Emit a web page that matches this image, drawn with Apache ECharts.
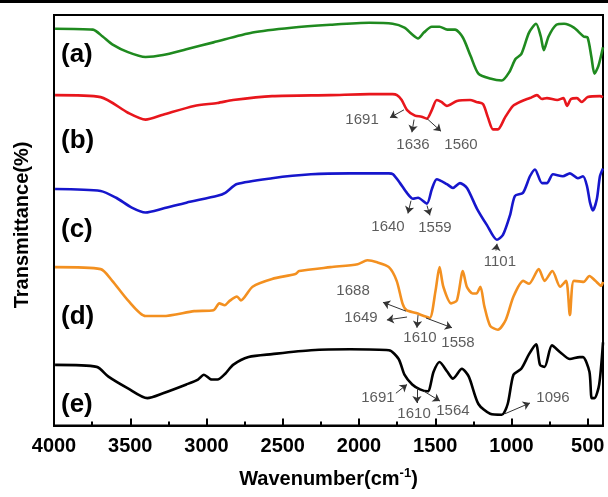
<!DOCTYPE html>
<html><head><meta charset="utf-8">
<script src="https://cdn.jsdelivr.net/npm/echarts@6/dist/echarts.min.js"></script>
<style>html,body{margin:0;padding:0;background:#fff}#c{width:608px;height:497px}</style>
</head><body><div id="c"></div>
<script>
// wavenumber (cm-1), relative transmittance (offset stacked)
const spectrumA = [[3993,406],[3745,405],[3681,398],[3618,390],[3515,382],[3400,377],[3285,379],[3132,385],[2954,392],[2698,402],[2443,407],[2187,410],[1932,412],[1779,411],[1702,407],[1651,400],[1613,396],[1575,402],[1523,408],[1472,408],[1421,405],[1370,405],[1319,397],[1268,378],[1217,360],[1140,355],[1064,353],[1013,362],[974,375],[936,380],[885,402],[839,411],[808,398],[788,384],[757,398],[706,410],[655,411],[591,407],[527,398],[501,397],[476,377],[456,360],[430,368],[400,387]];
const spectrumB = [[3993,338],[3694,336],[3515,320],[3400,313],[3285,318],[3081,327],[2928,330],[2826,333],[2570,337],[2187,338],[1932,339],[1780,339],[1751,338],[1720,333],[1686,323],[1633,317],[1590,316],[1555,314],[1522,323],[1490,333],[1460,331],[1424,327],[1358,332],[1272,333],[1230,331],[1187,329],[1154,315],[1121,303],[1089,303],[1043,315],[990,327],[931,332],[880,335],[833,338],[800,334],[768,335],[700,333],[660,335],[636,327],[610,334],[571,335],[540,331],[500,336],[420,337],[400,336]];
const spectrumC = [[3993,242],[3694,240],[3592,233],[3490,223],[3400,218],[3285,222],[3132,228],[2928,235],[2877,238],[2800,247],[2570,253],[2315,257],[2060,258],[1804,258],[1777,257],[1731,248],[1686,238],[1646,232],[1613,233],[1555,227],[1522,242],[1490,252],[1424,247],[1384,243],[1338,248],[1292,243],[1227,222],[1161,205],[1096,190],[1056,195],[1010,215],[977,235],[925,238],[879,255],[846,262],[800,248],[768,248],[728,257],[663,255],[617,258],[565,253],[531,255],[505,245],[485,228],[466,220],[440,232],[420,255],[400,263]];
const spectrumD = [[3993,162],[3694,160],[3618,148],[3515,128],[3400,112],[3285,112],[3081,117],[2954,118],[2916,125],[2880,123],[2852,127],[2800,132],[2775,128],[2698,142],[2570,150],[2417,155],[2392,158],[2187,162],[2009,165],[1945,169],[1881,167],[1804,162],[1753,148],[1715,125],[1689,118],[1625,115],[1575,112],[1536,110],[1498,138],[1472,162],[1447,142],[1396,125],[1358,128],[1319,158],[1293,142],[1255,135],[1230,135],[1204,142],[1178,122],[1140,102],[1089,98],[1038,108],[987,132],[923,148],[885,145],[821,160],[783,148],[732,158],[681,142],[642,148],[617,113],[591,148],[527,147],[489,153],[450,148],[412,143],[400,147]];
const spectrumE = [[3993,62],[3720,60],[3643,50],[3515,38],[3388,28],[3285,33],[3132,42],[3056,47],[3017,52],[2966,47],[2928,47],[2877,53],[2826,62],[2724,70],[2570,73],[2315,77],[2060,78],[1804,77],[1740,68],[1702,52],[1651,42],[1600,37],[1549,35],[1511,55],[1472,65],[1421,55],[1384,48],[1325,58],[1280,50],[1217,22],[1140,12],[1064,11],[1025,22],[987,52],[936,58],[885,73],[839,83],[813,62],[783,60],[735,82],[681,75],[617,68],[553,70],[531,70],[489,55],[474,28],[456,28],[425,42],[400,85]];

const panelNames = ['(a)','(b)','(c)','(d)','(e)'];
const xTickValues = [500,1000,1500,2000,2500,3000,3500,4000];
const xMinorTickValues = [750,1250,1750,2250,2750,3250,3750];

// peak annotations: text and anchor in data space
const peakTexts = ['1691','1636','1560','1640','1559','1101','1688','1649','1610','1558','1691','1610','1564','1096'];
const peakAnchors = [[1980,313],[1646,287],[1331,287],[1810,203],[1502,202],[1076,167],[2039,138],[1987,110],[1600,90],[1351,85],[1876,28],[1639,12],[1384,15],[728,28]];
// arrows: [fromWave, fromT, toWave, toT]
const peakArrows = [[1705,323,1797,315],[1639,313,1653,300],[1554,314,1462,301],[1659,230,1679,217],[1554,225,1535,215],[1102,179,1095,186],[1692,117,1843,126],[1685,111,1817,108],[1613,113,1620,100],[1561,110,1390,100],[1758,33,1685,42],[1620,38,1620,23],[1574,35,1469,25],[1043,12,879,23]];

const colors = ['#1f8a1f','#e8161c','#1616cc','#f39020','#000000'];
const FONT = '"Liberation Sans", Arial, sans-serif';

const chart = echarts.init(document.getElementById('c'), null, {renderer:'canvas'});
const spectra = [spectrumA, spectrumB, spectrumC, spectrumD, spectrumE];
const series = spectra.map((d,i)=>({
  type:'line', data:d, showSymbol:false, smooth:0.25, silent:true,
  lineStyle:{color:colors[i], width:2.6}, z:3
}));
series.push({
  type:'lines', coordinateSystem:'cartesian2d', silent:true, z:4,
  symbol:['none','arrow'], symbolSize:[0,7],
  lineStyle:{color:'#333', width:1, opacity:1},
  data: peakArrows.map(a=>({coords:[[a[0],a[1]],[a[2],a[3]]]}))
});
series.push({
  type:'scatter', symbolSize:0, silent:true, z:5,
  data: peakTexts.map((t,i)=>({name:t, value:peakAnchors[i]})),
  label:{show:true, position:'inside', formatter:p=>p.name, color:'#333', fontSize:15, fontFamily:FONT}
});

const panelY = [55,141,230,317,405];
chart.setOption({
  animation:false,
  backgroundColor:'#fff',
  grid:{left:54, right:5, top:15, bottom:62, show:true, borderColor:'#000', borderWidth:2, backgroundColor:'transparent'},
  xAxis:[{
    type:'value', min:400, max:4000, inverse:true,
    axisLine:{show:true, lineStyle:{color:'#000', width:2}},
    splitLine:{show:false},
    axisTick:{show:true, inside:true, length:7, customValues:xTickValues, lineStyle:{color:'#000', width:2}},
    axisLabel:{show:true, customValues:xTickValues, formatter:v=>String(v), fontSize:20, fontWeight:'bold', color:'#000', fontFamily:FONT, margin:11},
    name:'{a|Wavenumber(cm}{s|-1}{a|)}', nameLocation:'middle', nameGap:42,
    nameTextStyle:{rich:{
      a:{fontSize:20, fontWeight:'bold', color:'#000', fontFamily:FONT, lineHeight:24},
      s:{fontSize:13, fontWeight:'bold', color:'#000', fontFamily:FONT, lineHeight:24, padding:[0,0,12,0]}
    }}
  },{
    type:'value', min:400, max:4000, inverse:true, position:'bottom',
    axisLine:{show:true, lineStyle:{color:'#000', width:2}}, splitLine:{show:false}, axisLabel:{show:false},
    axisTick:{show:true, inside:true, length:4, customValues:xMinorTickValues, lineStyle:{color:'#000', width:2}}
  }],
  yAxis:{type:'value', min:0, max:420, show:false},
  series:series,
  graphic:[
    {type:'rect', left:0, top:0, shape:{width:608, height:3}, style:{fill:'#000'}},
    {type:'text', x:22, y:225, rotation:Math.PI/2,
      style:{text:'Transmittance(%)', fontSize:20, fontWeight:'bold', fill:'#000', fontFamily:FONT, align:'center', verticalAlign:'middle'}}
  ].concat(panelNames.map((n,i)=>({
    type:'text', x:61, y:panelY[i],
    style:{text:n, fontSize:26, fontWeight:'bold', fill:'#000', fontFamily:FONT, align:'left', verticalAlign:'middle'}
  })))
});
</script></body></html>
